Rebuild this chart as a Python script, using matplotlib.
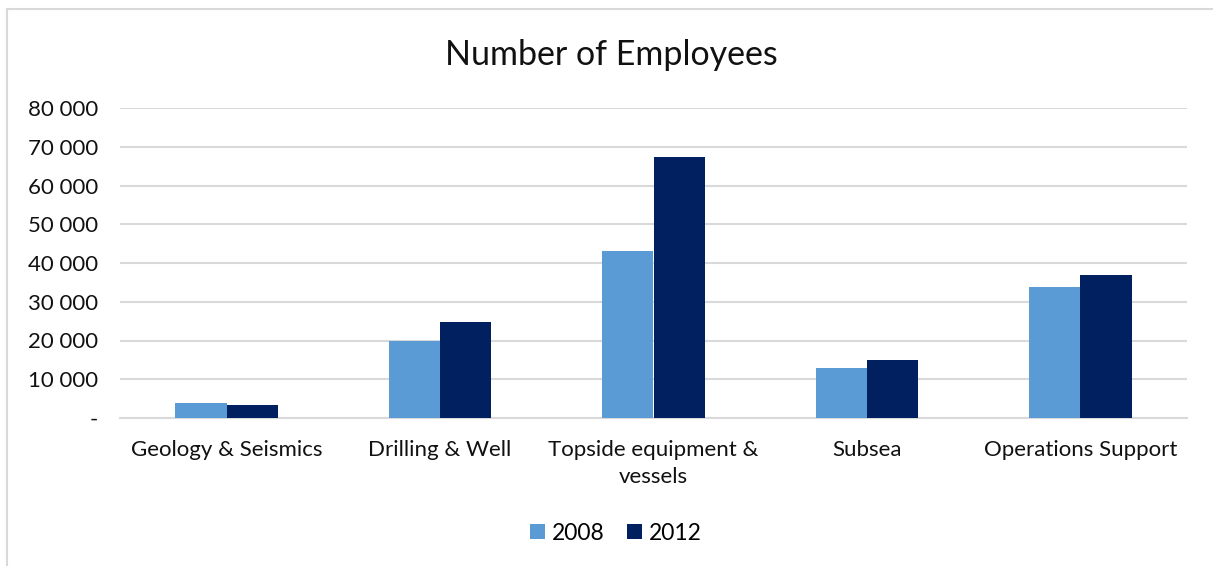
import matplotlib.pyplot as plt
from matplotlib.patches import Rectangle
from matplotlib.ticker import FuncFormatter
import numpy as np

plt.rcParams['font.family'] = ['Lato', 'DejaVu Sans']

categories = ['Geology & Seismics', 'Drilling & Well', 'Topside equipment &\nvessels',
              'Subsea', 'Operations Support']
emp_2008 = [3900, 19900, 43000, 12900, 33900]
emp_2012 = [3400, 24700, 67400, 15000, 36900]
y_ticks = [0, 10000, 20000, 30000, 40000, 50000, 60000, 70000, 80000]

c2008 = '#5b9bd5'
c2012 = '#002060'
grid_col = '#d9d9d9'

fig = plt.figure(figsize=(12.13, 5.66), dpi=100)
ax = fig.add_axes([120 / 1213, 1 - 418 / 566, 1067 / 1213, 310 / 566])

x = np.arange(len(categories))
w = 0.24
ax.bar(x - w / 2, emp_2008, w, color=c2008, label='2008', zorder=3)
ax.bar(x + w / 2, emp_2012, w, color=c2012, label='2012', zorder=3)

ax.set_xlim(-0.5, len(categories) - 0.5)
ax.set_ylim(0, 80000)
ax.set_yticks(y_ticks)


def fmt(v, pos):
    if v == 0:
        return '-'
    return '{:,.0f}'.format(v).replace(',', ' ')


ax.yaxis.set_major_formatter(FuncFormatter(fmt))
ax.set_xticks(x)
ax.set_xticklabels(categories, linespacing=1.45)
ax.tick_params(axis='y', length=0, pad=16, labelsize=16, labelcolor='#111111')
ax.tick_params(axis='x', length=0, pad=16, labelsize=16, labelcolor='#111111')

ax.grid(axis='y', color=grid_col, linewidth=1.5, zorder=0)
for s in ['left', 'right', 'top']:
    ax.spines[s].set_visible(False)
ax.spines['bottom'].set_color(grid_col)
ax.spines['bottom'].set_linewidth(1.5)

fig.text(611 / 1213, 1 - 55 / 566, 'Number of Employees', ha='center', va='center',
         fontsize=24.5, color='#111111')

fig.legend(loc='center', bbox_to_anchor=(616 / 1213, 1 - 533 / 566), ncol=2,
           frameon=False, fontsize=16.5, handlelength=0.65, handleheight=0.65,
           handletextpad=0.3, columnspacing=1.0)

# chart border (left and top edges)
fig.patches.append(Rectangle((7 / 1213, -0.1), 1.2, 1 - 9 / 566 + 0.1,
                             transform=fig.transFigure, fill=False,
                             edgecolor='#d9d9d9', linewidth=1.5))

fig.savefig('out.png', dpi=100)
